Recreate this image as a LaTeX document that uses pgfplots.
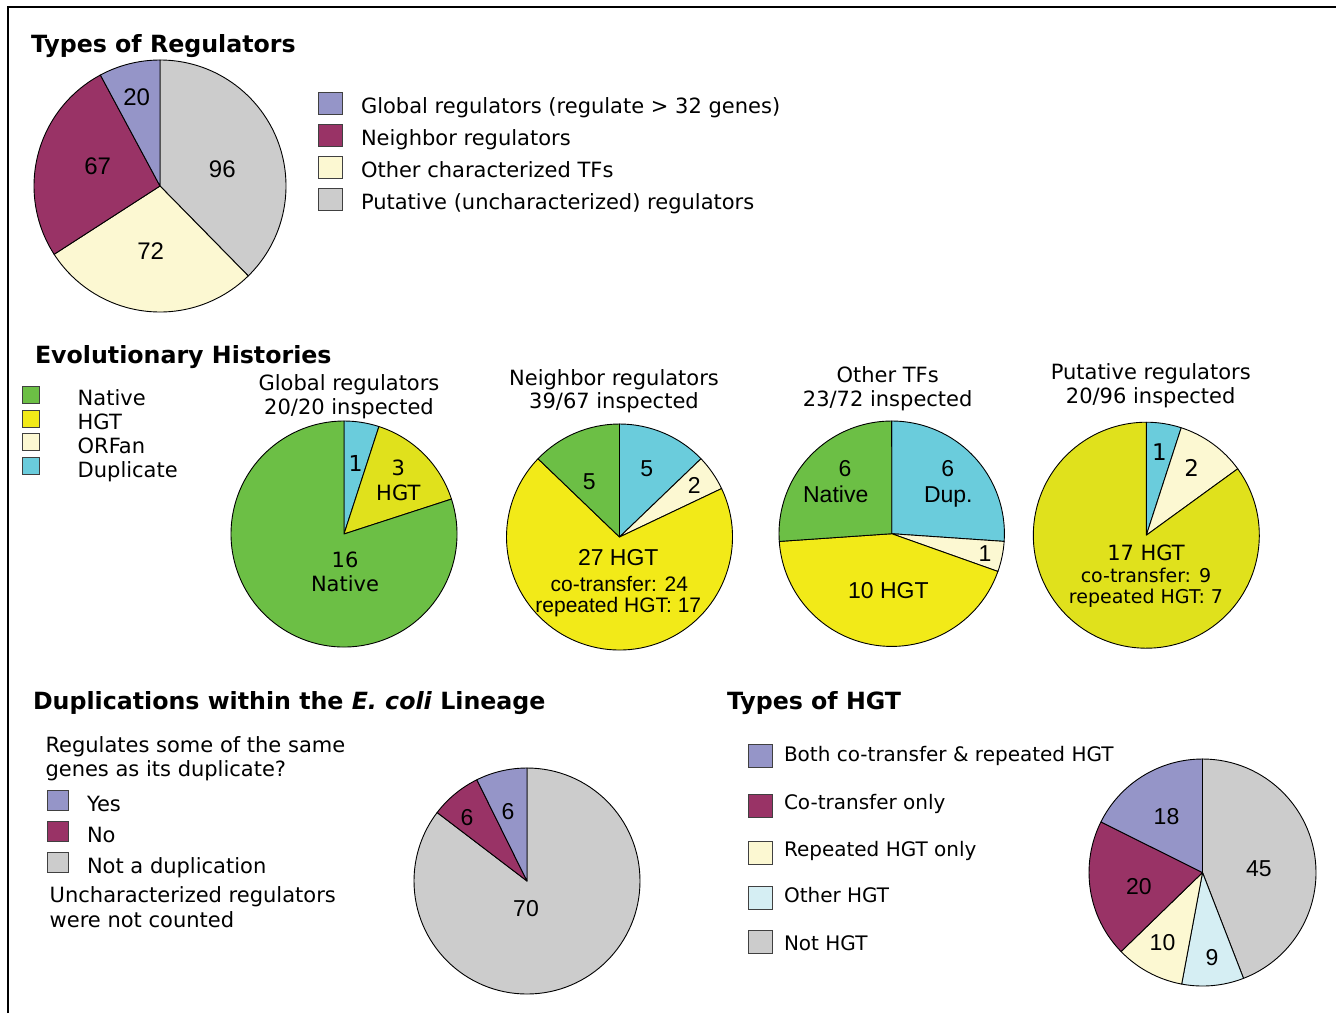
\documentclass[border=0pt]{standalone}
\usepackage{pgfplots}
\pgfplotsset{compat=1.18}
\usepackage{fontspec}
\setmainfont{DejaVu Sans}
\newfontfamily\arial{Liberation Sans}
\definecolor{lav}{RGB}{149,149,200}
\definecolor{maroon}{RGB}{153,51,102}
\definecolor{lyel}{RGB}{252,248,210}
\definecolor{gry}{RGB}{204,204,204}
\definecolor{grn}{RGB}{108,191,69}
\definecolor{yelA}{RGB}{242,234,24}
\definecolor{yelB}{RGB}{224,225,28}
\definecolor{cyn}{RGB}{106,204,220}
\definecolor{lcyn}{RGB}{213,238,243}
\newcommand\ftxt{\fontsize{10.5pt}{12pt}\selectfont}
\newcommand\fsm{\fontsize{10pt}{12pt}\selectfont}
\newcommand\ftitle{\fontsize{11.85pt}{14pt}\selectfont\bfseries}
\newcommand\fnum{\arial\fontsize{11.5pt}{13pt}\selectfont}
\newcommand\fnumL{\arial\fontsize{12pt}{14pt}\selectfont}
\newcommand\fnumS{\arial\fontsize{10.5pt}{12pt}\selectfont}
\pgfplotsset{pie/.style={hide axis, clip=false, xmin=-1,xmax=1,ymin=-1,ymax=1,
  enlargelimits=false, anchor=center, scale only axis}}
% #1 radius, #2 list value/colour, clockwise from 12 o'clock
\newcommand{\drawpie}[2]{%
  \gdef\pietotal{0}%
  \foreach \v/\cc in {#2}{\pgfmathparse{\pietotal+\v}\xdef\pietotal{\pgfmathresult}}%
  \gdef\pieang{90}%
  \foreach \v/\cc in {#2}{%
    \pgfmathparse{\pieang-(\v/\pietotal)*360}\let\newang\pgfmathresult
    \edef\temp{\noexpand\filldraw[fill=\cc, draw=black, line width=0.45pt, line join=round]
      (axis cs:0,0) -- (axis cs:{cos(\pieang)},{sin(\pieang)})
      arc[start angle=\pieang, end angle=\newang, radius=#1] -- cycle;}%
    \temp
    \xdef\pieang{\newang}%
  }%
}
\begin{document}
\begin{tikzpicture}
\useasboundingbox (0,0) rectangle (668pt,-506.5pt);
% ---------- pies ----------
\begin{axis}[pie, at={(80pt,-93pt)}, x=63pt, y=63pt]
\drawpie{63pt}{96/gry, 72/lyel, 67/maroon, 20/lav}
\end{axis}
\begin{axis}[pie, at={(172pt,-267pt)}, x=56.5pt, y=56.5pt]
\drawpie{56.5pt}{1/cyn, 3/yelB, 16/grn}
\end{axis}
\begin{axis}[pie, at={(309.75pt,-268.5pt)}, x=56.5pt, y=56.5pt]
\drawpie{56.5pt}{5/cyn, 2/lyel, 27/yelA, 5/grn}
\end{axis}
\begin{axis}[pie, at={(445.85pt,-266.85pt)}, x=56.35pt, y=56.35pt]
\drawpie{56.35pt}{6/cyn, 1/lyel, 10/yelA, 6/grn}
\end{axis}
\begin{axis}[pie, at={(573.15pt,-267.6pt)}, x=56.5pt, y=56.5pt]
\drawpie{56.5pt}{1/cyn, 2/lyel, 17/yelB}
\end{axis}
\begin{axis}[pie, at={(263.5pt,-440.5pt)}, x=56.5pt, y=56.5pt]
\drawpie{56.5pt}{70/gry, 6/maroon, 6/lav}
\end{axis}
\begin{axis}[pie, at={(601.25pt,-436.25pt)}, x=56.75pt, y=56.75pt]
\drawpie{56.75pt}{45/gry, 9/lcyn, 10/lyel, 20/maroon, 18/lav}
\end{axis}
% ---------- text and legends ----------
\begin{scope}[x=0.5pt,y=-0.5pt, every node/.style={inner sep=0pt, outer sep=0pt}]
\draw[line width=0.9pt] (8,1013) -- (8,7) -- (1336,7);
% titles
\node[anchor=base west,font=\ftitle] at (31,52) {Types of Regulators};
\node[anchor=base west,font=\ftitle] at (35,363) {Evolutionary Histories};
\node[anchor=base west,font=\ftitle] at (33,709) {Duplications within the \textit{E. coli} Lineage};
\node[anchor=base west,font=\ftitle] at (727,709) {Types of HGT};
% top legend
\begin{scope}[draw=black!75, line width=0.45pt]
\filldraw[fill=lav] (318,92) rectangle (342,114);
\filldraw[fill=maroon] (318,124) rectangle (342,146);
\filldraw[fill=lyel] (318,156) rectangle (342,178);
\filldraw[fill=gry] (318,188) rectangle (342,210);
\end{scope}
\node[anchor=base west,font=\ftxt] at (361,113) {Global regulators (regulate > 32 genes)};
\node[anchor=base west,font=\ftxt] at (361,145) {Neighbor regulators};
\node[anchor=base west,font=\ftxt] at (361,177) {Other characterized TFs};
\node[anchor=base west,font=\ftxt] at (361,209) {Putative (uncharacterized) regulators};
% top pie labels
\node[anchor=base,font=\fnumL] at (136.7,105) {20};
\node[anchor=base,font=\fnumL] at (97.7,174) {67};
\node[anchor=base,font=\fnumL] at (222.3,177.3) {96};
\node[anchor=base,font=\fnumL] at (150.7,259) {72};
% evolutionary legend
\begin{scope}[draw=black!75, line width=0.45pt]
\filldraw[fill=grn] (22,386) rectangle (39,403);
\filldraw[fill=yelA] (22,410) rectangle (39,427);
\filldraw[fill=lyel] (22,433) rectangle (39,450);
\filldraw[fill=cyn] (22,457) rectangle (39,474);
\end{scope}
\node[anchor=base west,font=\ftxt] at (77.7,405) {Native};
\node[anchor=base west,font=\ftxt] at (77.7,429) {HGT};
\node[anchor=base west,font=\ftxt] at (77.7,453) {ORFan};
\node[anchor=base west,font=\ftxt] at (77.7,477) {Duplicate};
% pie titles
\node[anchor=base,font=\ftxt] at (349,390) {Global regulators};
\node[anchor=base,font=\ftxt] at (349,414) {20/20 inspected};
\node[anchor=base,font=\ftxt] at (614,385) {Neighbor regulators};
\node[anchor=base,font=\ftxt] at (614,408.5) {39/67 inspected};
\node[anchor=base,font=\ftxt] at (887.7,382.7) {Other TFs};
\node[anchor=base,font=\ftxt] at (887.7,406.7) {23/72 inspected};
\node[anchor=base,font=\ftxt] at (1150.7,379.3) {Putative regulators};
\node[anchor=base,font=\ftxt] at (1150.7,403.3) {20/96 inspected};
% global pie labels
\node[anchor=base,font=\fontsize{11pt}{13pt}\selectfont] at (355.7,471.7) {1};
\node[anchor=base,font=\ftxt] at (398.3,475.7) {3};
\node[anchor=base,font=\ftxt] at (398.3,500.7) {HGT};
\node[anchor=base,font=\ftxt] at (345,567.3) {16};
\node[anchor=base,font=\ftxt] at (345,591.7) {Native};
% neighbor pie labels
\node[anchor=base,font=\fnum] at (646.7,476) {5};
\node[anchor=base,font=\fnum] at (694.3,493.3) {2};
\node[anchor=base,font=\fnum] at (589.3,489.3) {5};
\node[anchor=base,font=\fnum] at (618.3,565.7) {27 HGT};
\node[anchor=base,font=\fnumS] at (619.3,591.7) {co-transfer: 24};
\node[anchor=base,font=\fnumS] at (618.3,612.3) {repeated HGT: 17};
% other TFs labels
\node[anchor=base,font=\fnum] at (845,476.7) {6};
\node[anchor=base,font=\fnum] at (835.7,502.7) {Native};
\node[anchor=base,font=\fnum] at (947.7,476.7) {6};
\node[anchor=base,font=\fnum] at (948.3,502.7) {Dup.};
\node[anchor=base,font=\fnum] at (985,561) {1};
\node[anchor=base,font=\fnum] at (888.3,598.3) {10 HGT};
% putative labels
\node[anchor=base,font=\fontsize{11.5pt}{13pt}\selectfont] at (1159.3,460) {1};
\node[anchor=base,font=\fontsize{11.5pt}{13pt}\selectfont] at (1191.7,476.7) {2};
\node[anchor=base,font=\ftxt] at (1146,560) {17 HGT};
\node[anchor=base,font=\fontsize{9.5pt}{11pt}\selectfont] at (1146,582.7) {co-transfer: 9};
\node[anchor=base,font=\fontsize{9.5pt}{11pt}\selectfont] at (1146,603.3) {repeated HGT: 7};
% duplications panel
\node[anchor=base west,font=\ftxt] at (45.5,752.7) {Regulates some of the same};
\node[anchor=base west,font=\ftxt] at (45.5,776.5) {genes as its duplicate?};
\begin{scope}[draw=black!75, line width=0.45pt]
\filldraw[fill=lav] (47.6,790) rectangle (68.6,810);
\filldraw[fill=maroon] (47.6,821) rectangle (68.6,841);
\filldraw[fill=gry] (47.6,852) rectangle (68.6,872);
\end{scope}
\node[anchor=base west,font=\ftxt] at (87,811) {Yes};
\node[anchor=base west,font=\ftxt] at (87,842.3) {No};
\node[anchor=base west,font=\ftxt] at (87,873.3) {Not a duplication};
\node[anchor=base west,font=\ftxt] at (49.7,902.7) {Uncharacterized regulators};
\node[anchor=base west,font=\ftxt] at (49.7,927.3) {were not counted};
\node[anchor=base,font=\fnum] at (526,916.7) {70};
\node[anchor=base,font=\fnum] at (467,825) {6};
\node[anchor=base,font=\fnum] at (508,819.3) {6};
% types of HGT panel
\begin{scope}[draw=black!75, line width=0.45pt]
\filldraw[fill=lav] (748.7,744) rectangle (772.4,767.3);
\filldraw[fill=maroon] (748.7,794.3) rectangle (772.4,817.7);
\filldraw[fill=lyel] (748.7,841) rectangle (772.4,864.3);
\filldraw[fill=lcyn] (748.7,886) rectangle (772.4,909.3);
\filldraw[fill=gry] (748.7,930) rectangle (772.4,953.3);
\end{scope}
\node[anchor=base west,font=\fsm] at (784,761.7) {Both co-transfer \& repeated HGT};
\node[anchor=base west,font=\fsm] at (784,809) {Co-transfer only};
\node[anchor=base west,font=\fsm] at (784,856) {Repeated HGT only};
\node[anchor=base west,font=\fsm] at (784,902.7) {Other HGT};
\node[anchor=base west,font=\fsm] at (784,950) {Not HGT};
\node[anchor=base,font=\fnum] at (1166.5,824) {18};
\node[anchor=base,font=\fnum] at (1258.8,876.7) {45};
\node[anchor=base,font=\fnum] at (1138.8,894) {20};
\node[anchor=base,font=\fnum] at (1162.5,950) {10};
\node[anchor=base,font=\fnum] at (1212,965) {9};
\end{scope}
\end{tikzpicture}
\end{document}
